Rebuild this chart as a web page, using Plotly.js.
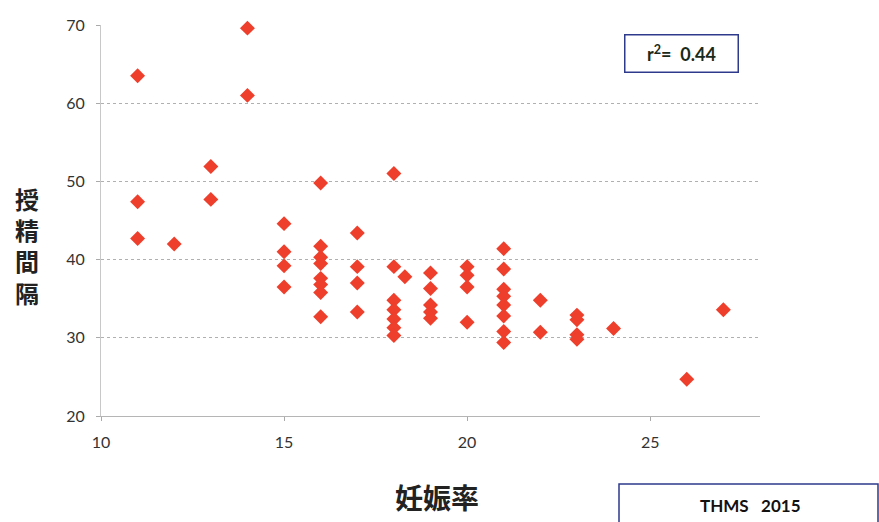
<!DOCTYPE html>
<html>
<head>
<meta charset="utf-8">
<script src="https://cdn.plot.ly/plotly-3.0.1.min.js"></script>
<style>html,body{margin:0;padding:0;background:#fff;}#chart{width:879px;height:522px;}</style>
</head>
<body>
<div id="chart"></div>
<script>
// 妊娠率 (x) and 授精間隔 (y)
const pregRate = [11,11,11, 12, 13,13, 14,14,
  15,15,15,15,
  16,16,16,16,16,16,16,16,
  17,17,17,17,
  18,18,18,18,18,18,18, 18.3,
  19,19,19,19,19,
  20,20,20,20,
  21,21,21,21,21,21,21,21,
  22,22, 23,23,23,23, 24, 26, 27];
const insemInterval = [63.5,47.4,42.7, 42.0, 51.9,47.7, 69.6,61.0,
  44.6,41.0,39.2,36.5,
  49.8,41.7,40.3,39.5,37.6,36.8,35.8,32.7,
  43.4,39.1,37.0,33.3,
  51.0,39.1,34.8,33.6,32.4,31.3,30.3, 37.8,
  38.3,36.3,34.2,33.3,32.5,
  39.1,38.0,36.5,32.0,
  41.4,38.8,36.2,35.3,34.2,32.8,30.8,29.4,
  34.8,30.7, 32.9,32.3,30.4,29.8, 31.2, 24.7, 33.6];
const xTicks = [10,15,20,25];
const yTicks = [20,30,40,50,60,70];
const yTitle = "授精間隔";
const xTitle = "妊娠率";
const r2Text = "r<sup>2</sup>=  0.44";
const sourceText = "THMS   2015";

const W = 879, H = 522, L = 101, R = 119, T = 25, B = 106;
const pw = W - L - R, ph = H - T - B;
const px = v => (v - L) / pw;          // pixel -> paper x
const py = v => (H - B - v) / ph;      // pixel -> paper y

const cjk = '"Noto Sans CJK JP", "Noto Sans CJK SC", sans-serif';
const annotations = [];
annotations.push({xref:'paper', yref:'paper', x: px(27), y: py(245),
  text: Array.from(yTitle).join('<br>'), showarrow:false, xanchor:'center', yanchor:'middle',
  font:{family: cjk, size: 24, color:'#222', weight: 'bold'}});
annotations.push({xref:'paper', yref:'paper', x: px(437), y: py(497), text: xTitle,
  showarrow:false, xanchor:'center', yanchor:'middle',
  font:{family: cjk, size: 28, color:'#222', weight:'bold'}});
annotations.push({xref:'paper', yref:'paper', x: px(681), y: py(53), text: r2Text,
  showarrow:false, xanchor:'center', yanchor:'middle', width: 110, height: 34,
  bordercolor:'#2E3A8C', borderwidth: 1.5, borderpad: 1, bgcolor:'#fff',
  font:{family:'Lato, "Open Sans", sans-serif', size: 18, color:'#1a2a1a', weight:'bold'}});
annotations.push({xref:'paper', yref:'paper', x: px(750), y: py(505), text: sourceText,
  showarrow:false, xanchor:'center', yanchor:'middle',
  font:{family:'Lato, "Open Sans", sans-serif', size: 17, color:'#111', weight:'bold'}});

const shapes = [{type:'rect', xref:'paper', yref:'paper', x0: px(619), x1: px(878), y0: py(540), y1: py(484),
  line:{color:'#2E3A8C', width:1.5}, fillcolor:'rgba(0,0,0,0)'}];

const trace = {x: pregRate, y: insemInterval, type:'scatter', mode:'markers', cliponaxis:false,
  marker:{symbol:'diamond', size: 11.5, color:'#EE3F2C', line:{width:0}}, hoverinfo:'skip'};

const layout = {
  width: W, height: H, margin:{l:L, r:R, t:T, b:B},
  paper_bgcolor:'#fff', plot_bgcolor:'#fff', showlegend:false,
  font:{family:'Lato, "Open Sans", sans-serif', color:'#333'},
  xaxis:{range:[10,28], tickvals: xTicks, ticktext: xTicks.map(String), showgrid:false, zeroline:false,
    showline:true, linecolor:'#b5b5b5', linewidth:1, ticks:'outside', ticklen:4, tickcolor:'#aaa',
    tickfont:{size:16, color:'#333'}, ticklabelstandoff: 8},
  yaxis:{range:[20,70], tickvals: yTicks, ticktext: yTicks.map(String), showgrid:true, gridcolor:'#b0b0b0',
    griddash:'dot', gridwidth:1, zeroline:false, showline:true, linecolor:'#c8c8c8', linewidth:1,
    ticks:'outside', ticklen:4, tickcolor:'#aaa', tickfont:{size:16, color:'#333'}, ticklabelstandoff: 8},
  annotations, shapes
};
Plotly.newPlot('chart', [trace], layout, {staticPlot:true, displayModeBar:false});
</script>
</body>
</html>
